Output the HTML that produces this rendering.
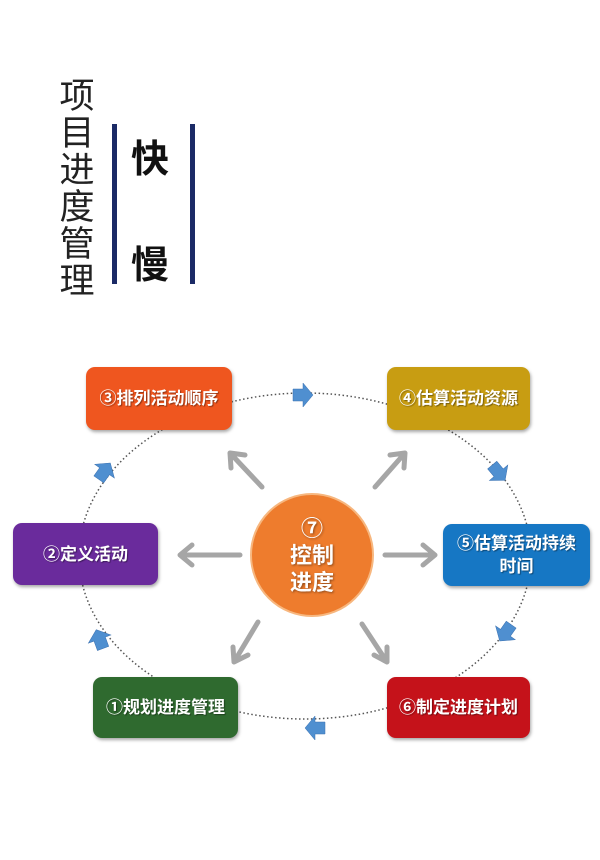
<!DOCTYPE html>
<html><head><meta charset="utf-8"><style>
body{margin:0;width:600px;height:860px;background:#fff;overflow:hidden;position:relative;font-family:"Liberation Sans","Noto Sans CJK SC",sans-serif}
.v{position:absolute;left:58px;top:78px;width:38px;font-size:35px;line-height:37px;color:#222;text-align:center}
.bar{position:absolute;top:124px;width:5px;height:160px;background:#1b2a66}
.k{position:absolute;left:131px;font-size:38px;font-weight:bold;color:#111}
.box{position:absolute;border-radius:9px;color:#fff;font-weight:bold;font-size:17px;display:flex;align-items:center;justify-content:center;text-align:center;line-height:23px;box-shadow:1px 2px 3px rgba(0,0,0,.35);text-shadow:1px 1px 1px rgba(0,0,0,.4)}
.circ{position:absolute;left:250px;top:493px;width:124px;height:124px;border-radius:50%;background:#ee7c2d;border:2px solid #f7b77f;box-sizing:border-box;color:#fff;font-weight:bold;font-size:22px;line-height:27px;display:flex;align-items:center;justify-content:center;text-align:center;text-shadow:1px 1px 2px rgba(0,0,0,.4)}
</style></head><body>
<div class="v">项<br>目<br>进<br>度<br>管<br>理</div>
<div class="bar" style="left:112px"></div>
<div class="bar" style="left:190px"></div>
<div class="k" style="top:128px">快</div>
<div class="k" style="top:234px">慢</div>
<svg width="600" height="860" style="position:absolute;left:0;top:0">
<ellipse cx="305" cy="556" rx="226" ry="163" fill="none" stroke="#555" stroke-width="1.5" stroke-dasharray="1.5 2.5"/>
<g stroke="#a6a6a6" stroke-width="5" fill="none" stroke-linecap="round" stroke-linejoin="round">
<path d="M240 555H180M192 545L180 555L192 565"/>
<path d="M385 555H435M423 545L435 555L423 565"/>
<path d="M262 487L230 453M231 468L230 453L245 455"/>
<path d="M375 487L405 453M390 455L405 453L404 468"/>
<path d="M258 622L234 662M233 647L234 662L248 655"/>
<path d="M362 624L387 662M374 655L387 662L387 647"/>
</g>
<g fill="#4f8fd0" stroke="#3a70b0" stroke-width="0.5">
<path d="M-9 -6H1V-12L11 0L1 12V6H-9Z" transform="translate(302,395)"/>
<path d="M-9 -6H1V-12L11 0L1 12V6H-9Z" transform="translate(104,472) rotate(-55)"/>
<path d="M-9 -6H1V-12L11 0L1 12V6H-9Z" transform="translate(100,640) rotate(-110)"/>
<path d="M-9 -6H1V-12L11 0L1 12V6H-9Z" transform="translate(498,472) rotate(50)"/>
<path d="M-9 -6H1V-12L11 0L1 12V6H-9Z" transform="translate(506,632) rotate(125)"/>
<path d="M-9 -6H1V-12L11 0L1 12V6H-9Z" transform="translate(316,728) rotate(180)"/>
</g>
</svg>
<div class="box" style="left:86px;top:367px;width:146px;height:63px;background:#ef561f">③排列活动顺序</div>
<div class="box" style="left:387px;top:367px;width:143px;height:63px;background:#c89d12">④估算活动资源</div>
<div class="box" style="left:13px;top:523px;width:145px;height:62px;background:#6a2b9c">②定义活动</div>
<div class="box" style="left:443px;top:524px;width:147px;height:62px;background:#1677c4">⑤估算活动持续<br>时间</div>
<div class="box" style="left:93px;top:677px;width:145px;height:61px;background:#2f6a2f">①规划进度管理</div>
<div class="box" style="left:387px;top:677px;width:143px;height:61px;background:#c5121a">⑥制定进度计划</div>
<div class="circ">⑦<br>控制<br>进度</div>
</body></html>
